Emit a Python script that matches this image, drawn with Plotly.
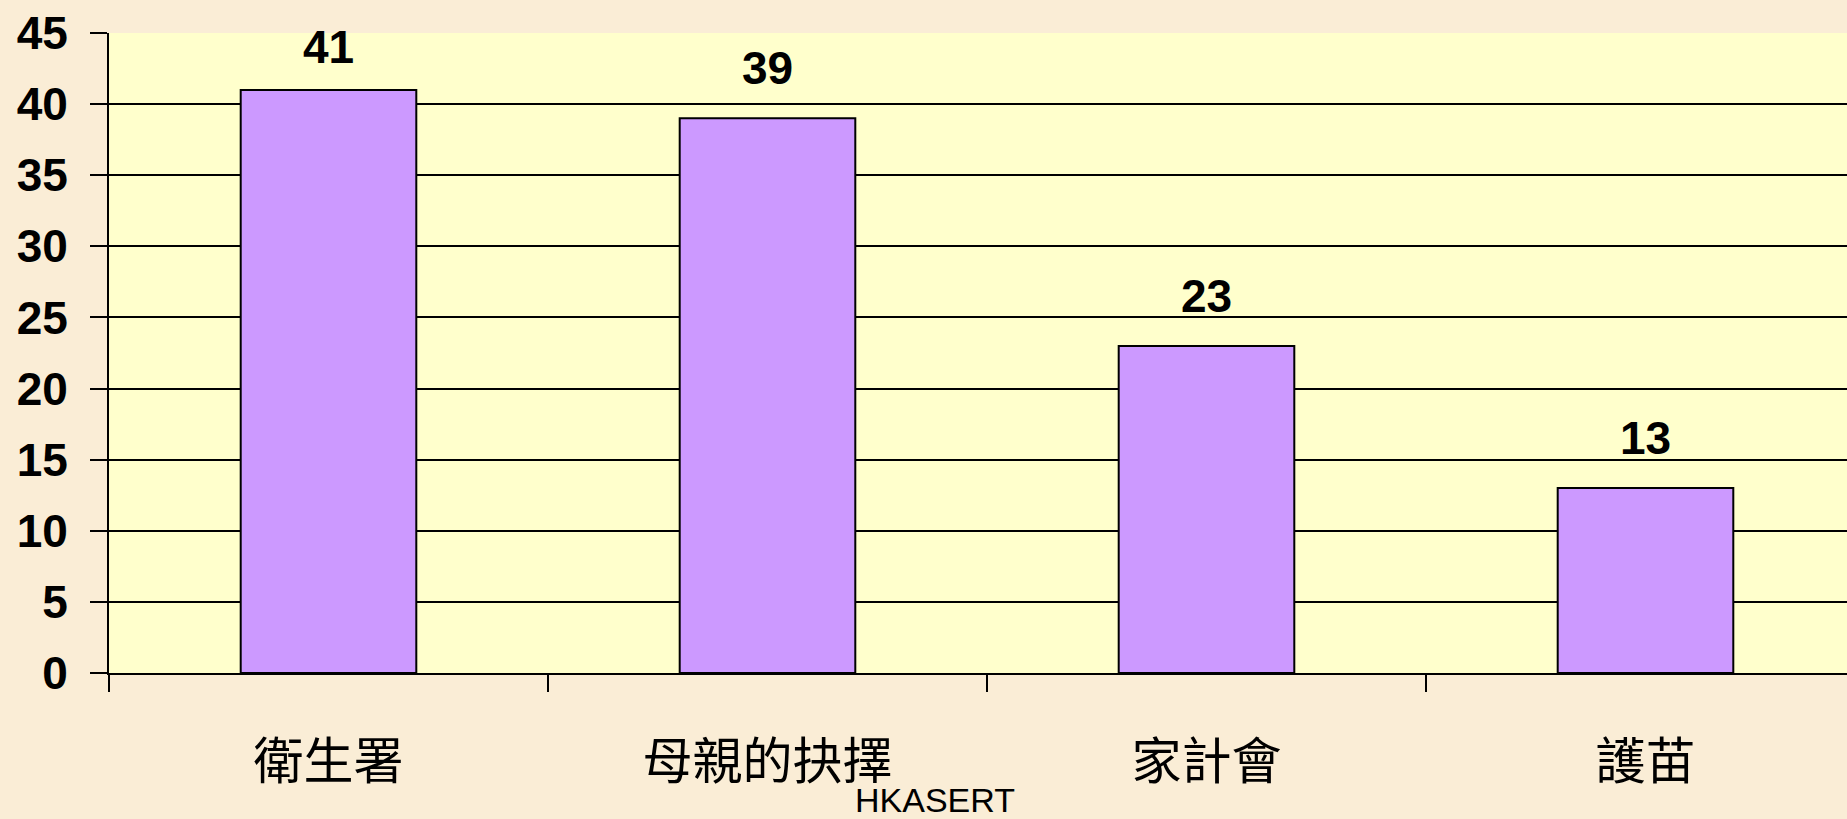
import plotly.graph_objects as go

categories = ["衛生署", "母親的抉擇", "家計會", "護苗"]
values = [41, 39, 23, 13]
y_ticks = [0, 5, 10, 15, 20, 25, 30, 35, 40, 45]
source_text = "HKASERT"

label_shift = [43, 50, 50, 50]

fig = go.Figure()
fig.add_trace(go.Bar(
    x=categories, y=values,
    marker=dict(color="#CC99FF", line=dict(color="#000000", width=2)),
    width=0.40,
))

for c, v, s in zip(categories, values, label_shift):
    fig.add_annotation(x=c, y=v, text=f"<b>{v}</b>", showarrow=False,
                       yshift=s, yanchor="middle",
                       font=dict(family="Liberation Sans, Arial", size=46, color="#000000"))

fig.add_annotation(x=(935 - 109) / 1738, y=(673 - 800) / 640, xref="paper", yref="paper",
                   text=source_text, showarrow=False, xanchor="center", yanchor="middle",
                   font=dict(family="Liberation Sans, Arial", size=34, color="#000000"))

fig.update_layout(
    width=1847, height=819,
    margin=dict(l=109, r=0, t=33, b=146),
    paper_bgcolor="#FAEDD6",
    plot_bgcolor="#FFFFCC",
    showlegend=False,
    bargap=0.6,
)
fig.update_xaxes(
    range=[-0.5, 3.5 - 18 / 439],
    showgrid=False, showline=True, linecolor="#000000", linewidth=2,
    ticks="outside", ticklen=17, tickwidth=2, tickcolor="#000000",
    tickson="boundaries",
    ticklabelstandoff=44,
    tickfont=dict(family="Noto Sans CJK TC", size=50, color="#000000"),
)
fig.update_yaxes(
    range=[0, 45], tickvals=y_ticks,
    showgrid=True, gridcolor="#000000", gridwidth=2,
    showline=True, linecolor="#000000", linewidth=2,
    ticks="outside", ticklen=17, tickwidth=2, tickcolor="#000000",
    ticklabelstandoff=13, zeroline=False,
    tickfont=dict(family="Liberation Sans, Arial", size=46, color="#000000", weight="bold"),
)

fig.write_html("out.html", config={"displayModeBar": False},
               post_script="document.body.style.margin='0';document.body.style.overflow='hidden';")
